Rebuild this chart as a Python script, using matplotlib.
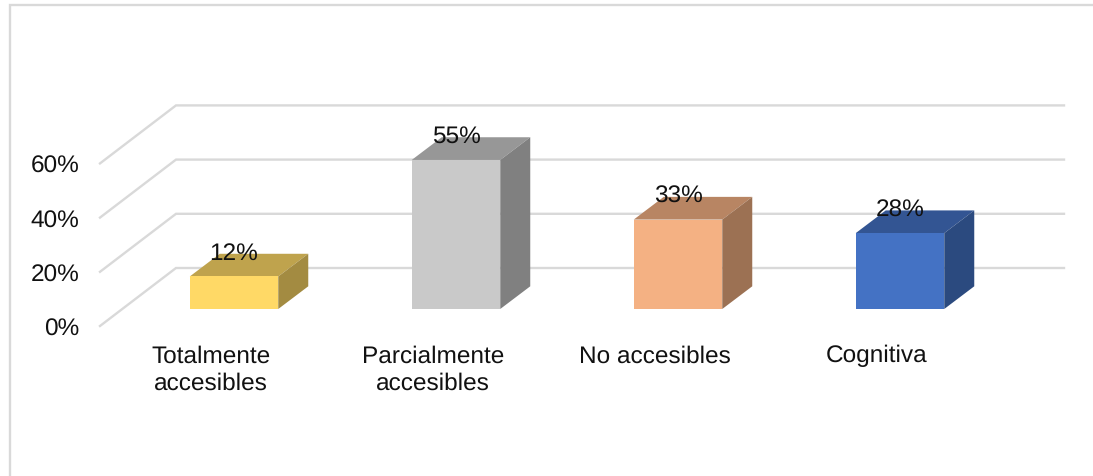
#!/usr/bin/env python
# coding: utf-8

import matplotlib
matplotlib.use('Agg')
import matplotlib.pyplot as plt
from matplotlib.lines import Line2D

plt.rcParams['font.family'] = ['Liberation Sans', 'DejaVu Sans']
plt.rcParams['text.hinting'] = 'no_hinting'

fig_name = "out.png"

##################### DATA ##########################################

categories = ['Totalmente\naccesibles', 'Parcialmente\naccesibles', 'No accesibles', 'Cognitiva']
values     = [12, 55, 33, 28]
y_ticks    = [0, 20, 40, 60]

color_front = ['#FFD966', '#C9C9C9', '#F4B183', '#4472C4']
color_top   = ['#BFA34D', '#979797', '#B88563', '#335593']
color_side  = ['#A38B41', '#808080', '#9C7153', '#2B4A7F']

##################### SCALES (pixels per data unit) #################

W, H = 1093, 477
px_x = 222.0     # one category
px_y = 2.71      # one percent
x0_px = 234.0    # centre of first bar
y0_px = 310.0    # base of bars

bar_w   = 88.5 / px_x
depth_x = 30 / px_x
depth_y = 22.7 / px_y

label_size = 17.6

fig = plt.figure(figsize=(W / 100, H / 100), dpi=100, facecolor='w')
ax = fig.add_axes([0, 0, 1, 1])
ax.set_xlim(-x0_px / px_x, (W - x0_px) / px_x)
ax.set_ylim((y0_px - H) / px_y, y0_px / px_y)
ax.axis('off')

##################### GRID ##########################################

grid_color = '#D9D9D9'
grid_front_x = (100 - x0_px) / px_x
grid_back_x  = (176 - x0_px) / px_x
grid_end_x   = (1064 - x0_px) / px_x
grid_front_y = -17.0 / px_y
grid_back_y  = 41.0 / px_y

for t in y_ticks:
    ax.plot([grid_front_x, grid_back_x, grid_end_x],
            [t + grid_front_y, t + grid_back_y, t + grid_back_y],
            color=grid_color, lw=1.7, zorder=1, solid_joinstyle='miter')
    ax.text((79.5 - x0_px) / px_x, t + grid_front_y, '%d%%' % t, ha='right', va='center_baseline',
            fontsize=label_size, color='#111111', zorder=5)

##################### BARS ##########################################

for i, v in enumerate(values):
    left = i - bar_w / 2
    right = i + bar_w / 2
    ax.bar(i, v, width=bar_w, color=color_front[i], lw=0, zorder=3)
    # top face
    ax.fill([left, right, right + depth_x, left + depth_x],
            [v, v, v + depth_y, v + depth_y], color=color_top[i], lw=0, zorder=2)
    # side face
    ax.fill([right, right + depth_x, right + depth_x, right],
            [0, depth_y, v + depth_y, v], color=color_side[i], lw=0, zorder=2)
    ax.annotate('%d%%' % v, (i, v), xytext=(0, 26.5 * 0.72), textcoords='offset points',
                ha='center', va='center_baseline', fontsize=label_size, color='#111111', zorder=5)
    ax.text(i - 23 / px_x, (y0_px - 345) / px_y, categories[i], ha='center', va='top',
            fontsize=label_size, color='#111111', linespacing=1.27, zorder=5)

##################### OUTER BORDER ##################################

fig.add_artist(Line2D([9.5 / W, 9.5 / W, 1], [0, 1 - 6 / H, 1 - 6 / H],
                      color=grid_color, lw=1.7, solid_joinstyle='miter'))

plt.savefig(fig_name, dpi=100, facecolor='w')
